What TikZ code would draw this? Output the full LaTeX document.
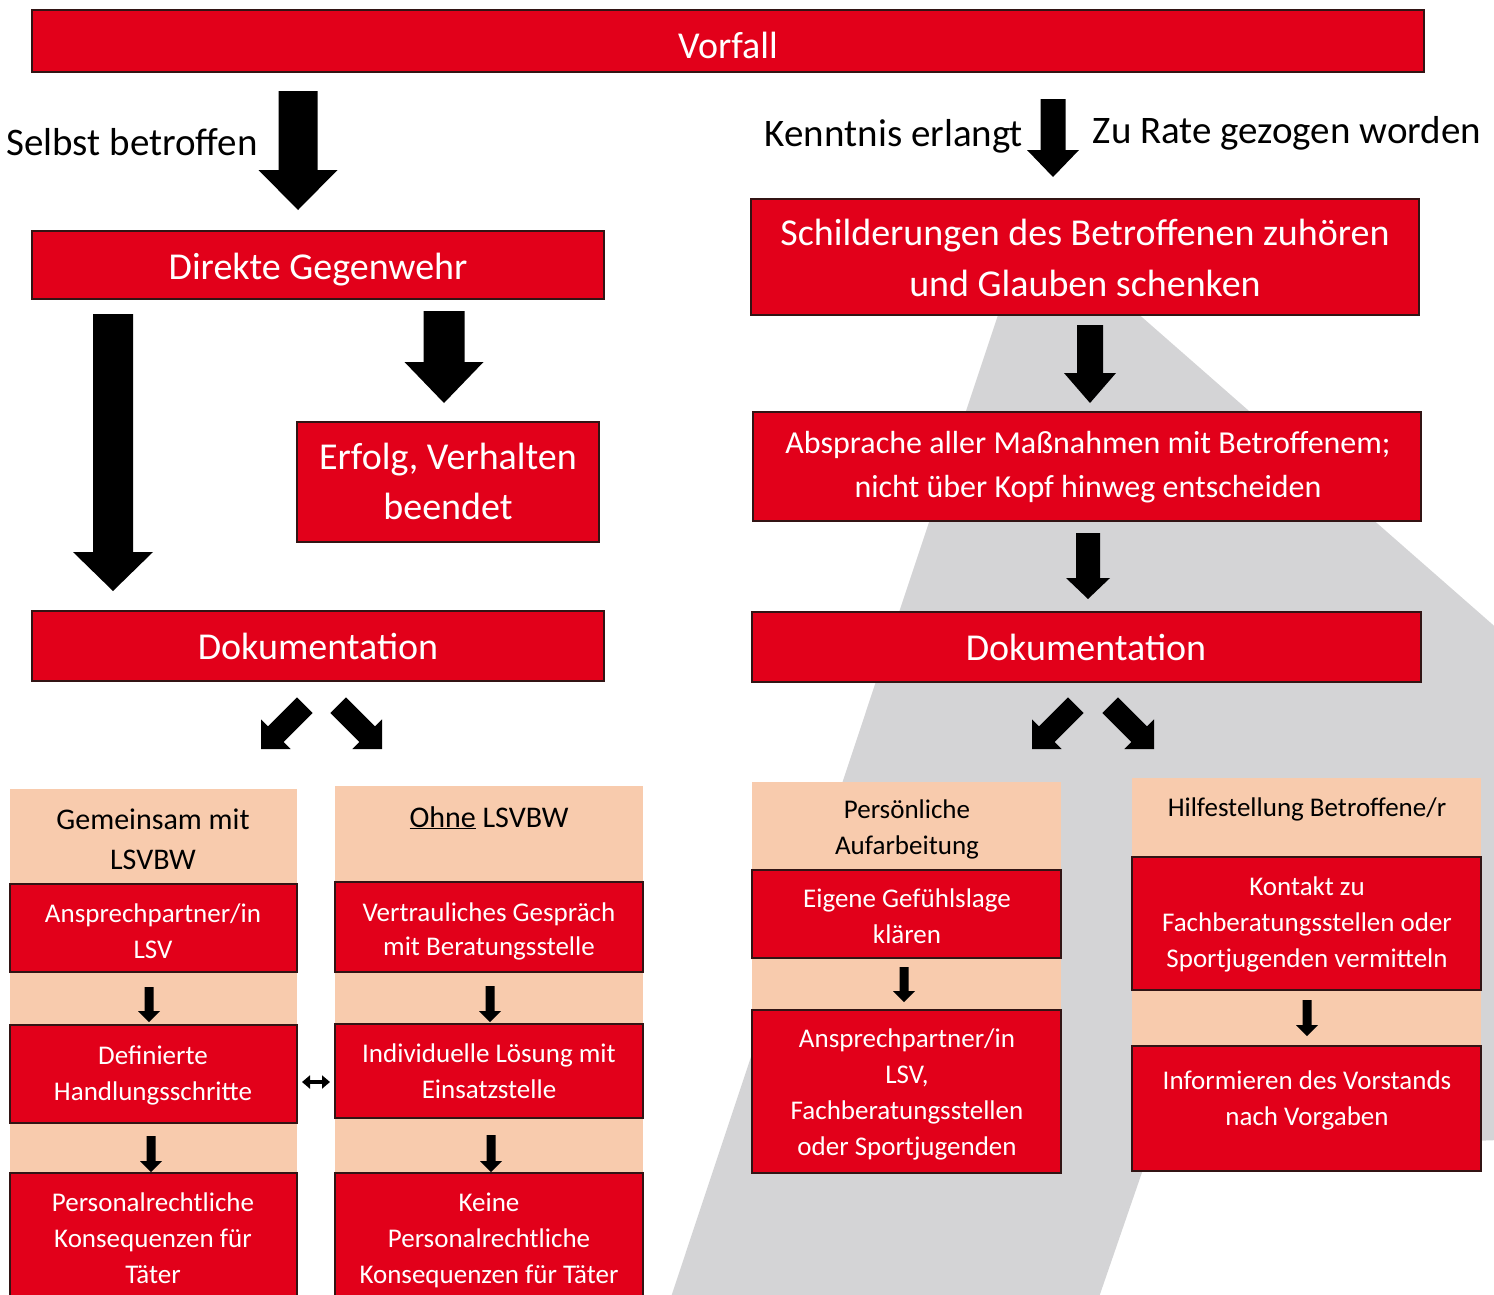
\documentclass[tikz,border=0pt]{standalone}
\usepackage{fontspec}
\setmainfont{Carlito}
\usetikzlibrary{arrows.meta}
\definecolor{lsvred}{RGB}{226,0,26}
\definecolor{peach}{RGB}{248,203,173}
\definecolor{bggray}{RGB}{212,212,214}
\definecolor{boxline}{RGB}{50,20,20}
\tikzset{
 redbox/.style={fill=lsvred, draw=boxline, line width=1.3pt, anchor=north west, inner sep=0pt, outer sep=0pt},
 peachbox/.style={fill=peach, anchor=north west, inner sep=0pt, outer sep=0pt},
 wtxt/.style={text=white, align=center, inner sep=0pt, execute at begin node=\strut, execute at end node=\strut},
 btxt/.style={text=black, align=center, inner sep=0pt, execute at begin node=\strut, execute at end node=\strut},
 big/.style={font=\fontsize{38}{50}\selectfont},
 lbl/.style={font=\fontsize{39}{50}\selectfont},
 mid/.style={font=\fontsize{32}{44}\selectfont},
 head/.style={font=\fontsize{30}{40}\selectfont},
 small/.style={font=\fontsize{27}{36}\selectfont},
 arrowfill/.style={fill=black},
}
\newcommand\rbox[6]{\node[#6, minimum width={(#4-#2)*1pt}, minimum height={(#5-#3)*1pt}] (#1) at (#2,#3) {};}
\newcommand\blockarrow[6]{\fill[arrowfill, shift={(#1)}, rotate=#2] (0,0) -- (-#5,#6) -- (-#5,#4) -- (-#3,#4) -- (-#3,-#4) -- (-#5,-#4) -- (-#5,-#6) -- cycle;}
\begin{document}
\begin{tikzpicture}[x=1pt,y=-1pt]
\useasboundingbox (0,0) rectangle (1494,1294);
\clip (0,0) rectangle (1494,1294);
\fill[white] (0,0) rectangle (1494,1294);
% background shape
\fill[bggray] (1030,219) -- (1500,631) -- (1500,1140) -- (1149,1152) -- (1098,1300) -- (670,1300) -- cycle;
% main boxes
\rbox{vorfall}{32}{10}{1424}{72}{redbox}
\rbox{direkt}{32}{231}{604}{299}{redbox}
\rbox{erfolg}{297}{422}{599}{542}{redbox}
\rbox{dokl}{32}{611}{604}{681}{redbox}
\rbox{schild}{751}{199}{1419}{315}{redbox}
\rbox{abspr}{753}{412}{1421}{521}{redbox}
\rbox{dokr}{752}{612}{1421}{682}{redbox}
% peach columns
\rbox{col1}{10}{789}{297}{1300}{peachbox}
\rbox{col2}{335}{786}{643}{1300}{peachbox}
\rbox{col3}{752}{782}{1061}{1173}{peachbox}
\rbox{col4}{1132}{778}{1481}{1100}{peachbox}
% column boxes
\rbox{c1a}{10}{884}{297}{972}{redbox}
\rbox{c1b}{10}{1025}{297}{1123}{redbox}
\rbox{c1c}{10}{1173}{297}{1310}{redbox}
\rbox{c2a}{335}{882}{643}{972}{redbox}
\rbox{c2b}{335}{1024}{643}{1118}{redbox}
\rbox{c2c}{335}{1173}{643}{1310}{redbox}
\rbox{c3a}{752}{870}{1061}{958}{redbox}
\rbox{c3b}{752}{1010}{1061}{1173}{redbox}
\rbox{c4a}{1132}{857}{1481}{990}{redbox}
\rbox{c4b}{1132}{1046}{1481}{1171}{redbox}
% arrow tips
\coordinate (a1) at (298,210);
\coordinate (a2) at (1053,177);
\coordinate (a3) at (113,591);
\coordinate (a4) at (444,403);
\coordinate (a5) at (1090,403);
\coordinate (a6) at (1088,599);
\coordinate (d1) at (261,749);
\coordinate (d2) at (382,749);
\coordinate (d3) at (1032,749);
\coordinate (d4) at (1154,749);
\coordinate (s1) at (149,1022);
\coordinate (s2) at (151,1172);
\coordinate (s3) at (490,1022);
\coordinate (s4) at (491,1172);
\coordinate (s5) at (904,1002);
\coordinate (s6) at (1307,1036);
\blockarrow{a1}{-90}{119}{19.5}{40}{39.5}
\blockarrow{a2}{-90}{78}{12.5}{27}{26}
\blockarrow{a3}{-90}{277}{20}{39}{40}
\blockarrow{a4}{-90}{92}{20.5}{41}{39.5}
\blockarrow{a5}{-90}{78}{13}{30}{26}
\blockarrow{a6}{-90}{66}{12}{21}{22}
\blockarrow{d1}{-135}{62}{11}{21}{21}
\blockarrow{d2}{-45}{62}{11}{21}{21}
\blockarrow{d3}{-135}{62}{11}{21}{21}
\blockarrow{d4}{-45}{62}{11}{21}{21}
\blockarrow{s1}{-90}{35}{4.5}{11}{11}
\blockarrow{s2}{-90}{36}{4.5}{11}{11}
\blockarrow{s3}{-90}{36}{4.5}{11}{11}
\blockarrow{s4}{-90}{37}{4.5}{11}{11}
\blockarrow{s5}{-90}{35}{4.5}{11}{11}
\blockarrow{s6}{-90}{36}{4.5}{11}{11}
% double arrow between columns
\coordinate (dl) at (302,1082);
\coordinate (dr) at (330,1082);
\draw[line width=4pt, {Triangle[length=8pt,width=13pt]}-{Triangle[length=8pt,width=13pt]}] (dl) -- (dr);
% texts
\node[wtxt,big] (t-vorfall) at (728,48) {Vorfall};
\node[btxt,lbl] (t-selbst) at (132,145) {Selbst betroffen};
\node[btxt,lbl] (t-kennt) at (894,136) {Kenntnis erlangt};
\node[btxt,lbl] (t-rate) at (1287,133) {Zu Rate gezogen worden};
\node[wtxt,big] (t-direkt) at (318,269) {Direkte Gegenwehr};
\node[wtxt,big] (t-erfolg) at (448,489) {Erfolg, Verhalten\\beendet};
\node[wtxt,big] (t-dokl) at (318,649) {Dokumentation};
\node[wtxt,font=\fontsize{38}{51}\selectfont] (t-schild) at (1085,265) {Schilderungen des Betroffenen zuhören\\und Glauben schenken};
\node[wtxt,mid] (t-abspr) at (1088,471) {Absprache aller Maßnahmen mit Betroffenem;\\nicht über Kopf hinweg entscheiden};
\node[wtxt,big] (t-dokr) at (1086,650) {Dokumentation};
\node[btxt,head] (t-col1) at (153,845) {Gemeinsam mit\\LSVBW};
\node[btxt,head] (t-col2) at (489,819) {\underline{Ohne} LSVBW};
\node[btxt,small] (t-col3) at (907,833) {Persönliche\\Aufarbeitung};
\node[btxt,small] (t-col4) at (1307,809) {Hilfestellung Betroffene/r};
\node[wtxt,small] (t-c1a) at (153,937) {Ansprechpartner/in\\LSV};
\node[wtxt,small] (t-c1b) at (153,1079) {Definierte\\Handlungsschritte};
\node[wtxt,small] (t-c1c) at (153,1244) {Personalrechtliche\\Konsequenzen für\\Täter};
\node[wtxt,font=\fontsize{27}{34}\selectfont] (t-c2a) at (489,934) {Vertrauliches Gespräch\\mit Beratungsstelle};
\node[wtxt,small] (t-c2b) at (489,1077) {Individuelle Lösung mit\\Einsatzstelle};
\node[wtxt,small] (t-c2c) at (489,1244) {Keine\\Personalrechtliche\\Konsequenzen für Täter};
\node[wtxt,small] (t-c3a) at (907,922) {Eigene Gefühlslage\\klären};
\node[wtxt,small] (t-c3b) at (907,1098) {Ansprechpartner/in\\LSV,\\Fachberatungsstellen\\oder Sportjugenden};
\node[wtxt,small] (t-c4a) at (1307,928) {Kontakt zu\\Fachberatungsstellen oder\\Sportjugenden vermitteln};
\node[wtxt,small] (t-c4b) at (1307,1104) {Informieren des Vorstands\\nach Vorgaben};
\end{tikzpicture}
\end{document}
